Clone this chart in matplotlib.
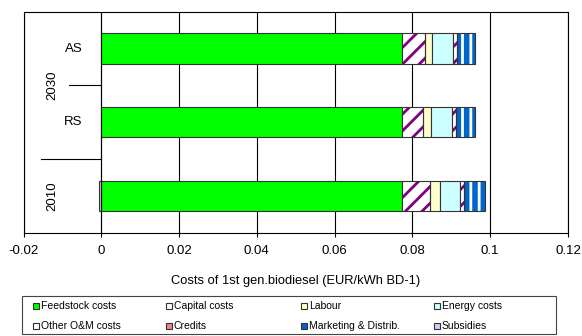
import numpy as np
import matplotlib
matplotlib.use("Agg")
import matplotlib.pyplot as plt
import matplotlib.ticker as ticker
from matplotlib.patches import Rectangle

plt.rcParams['font.family'] = ['Liberation Sans', 'DejaVu Sans']
plt.rcParams['hatch.linewidth'] = 2.0

# cost components per scenario (EUR/kWh), rows bottom -> top: 2010, 2030 RS, 2030 AS
scenarios = ['2010', 'RS', 'AS']
feedstock = [0.0772, 0.0772, 0.0772]
capital = [0.0073, 0.0056, 0.0060]
labour = [0.0026, 0.0021, 0.0019]
energy = [0.0051, 0.0053, 0.0054]
other_om = [0.0011, 0.0010, 0.0009]
credits = [0.0, 0.0, 0.0]
marketing = [0.0054, 0.0049, 0.0046]
subsidies = [-0.0006, 0.0, 0.0]

xticks = [-0.02, 0, 0.02, 0.04, 0.06, 0.08, 0.1, 0.12]

EDGE = '#333333'
PURPLE = '#800080'
BLUE = '#0066CC'

W, H = 582, 336
fig = plt.figure(figsize=(W / 100, H / 100), dpi=100)
ax = fig.add_axes([23.5 / W, 103 / H, 544.5 / W, 221.3 / H])

y = np.arange(len(scenarios))
h = 0.41

segments = [
    ('Feedstock costs', feedstock, dict(color='#00FF00')),
    ('Capital costs', capital, dict(color='white', hatch='//', hcolor=PURPLE)),
    ('Labour', labour, dict(color='#FFFFCC')),
    ('Energy costs', energy, dict(color='#CCFFFF')),
    ('Other O&M costs', other_om, dict(color='white', hatch='//', hcolor=PURPLE)),
    ('Credits', credits, dict(color='#FF8080')),
    ('Marketing & Distrib.', marketing, dict(color=BLUE, hatch='||', hcolor='white')),
    ('Subsidies', subsidies, dict(color='#CCCCFF')),
]

pos = np.zeros(len(scenarios))
neg = np.zeros(len(scenarios))
for name, vals, st in segments:
    vals = np.array(vals)
    left = np.where(vals >= 0, pos, neg)
    keep = vals != 0
    if keep.any():
        if 'hatch' in st:
            ax.barh(y[keep], vals[keep], h, left=left[keep], color=st['color'],
                    hatch=st['hatch'], edgecolor=st['hcolor'], linewidth=0, zorder=3)
            ax.barh(y[keep], vals[keep], h, left=left[keep], fill=False,
                    edgecolor=EDGE, linewidth=0.8, zorder=4)
        else:
            ax.barh(y[keep], vals[keep], h, left=left[keep], color=st['color'],
                    edgecolor=EDGE, linewidth=0.8, zorder=3)
    pos += np.where(vals > 0, vals, 0)
    neg += np.where(vals < 0, vals, 0)

ax.set_xlim(-0.02, 0.12)
ax.set_ylim(-0.5, 2.5)
ax.set_xticks(xticks)
ax.xaxis.set_major_formatter(ticker.FuncFormatter(lambda v, p: '%g' % round(v, 4)))
ax.tick_params(axis='x', direction='out', length=3, width=0.8, pad=6, labelsize=9.5)
ax.set_yticks([])
ax.grid(axis='x', color='black', linewidth=0.8, zorder=0)
ax.set_axisbelow(True)
for s in ax.spines.values():
    s.set_color('black')
    s.set_linewidth(0.8)

# category axis drawn at x = 0 with two-level labels
ax.axvline(0, color='black', linewidth=0.8, zorder=5)
ax.plot([-0.0084, 0], [1.5, 1.5], color='black', linewidth=0.8, zorder=5)
ax.plot([-0.0155, 0], [0.5, 0.5], color='black', linewidth=0.8, zorder=5)
for yi, lab in zip(y, scenarios):
    if lab in ('RS', 'AS'):
        ax.text(-0.0048, yi, lab, ha='right', va='center', fontsize=9.5)
ax.text(-0.0125, 1.5, '2030', rotation=90, ha='center', va='center', fontsize=9.5)
ax.text(-0.0125, 0, '2010', rotation=90, ha='center', va='center', fontsize=9.5)

ax.set_xlabel('Costs of 1st gen.biodiesel (EUR/kWh BD-1)', fontsize=9.3, va='center')
ax.xaxis.set_label_coords(0.5, -0.217)

# legend box, filled row by row in four fixed-width columns
leg_colors = ['#00FF00', 'white', '#FFFFCC', '#CCFFFF', 'white', '#FF8080', BLUE, '#CCCCFF']
col_x = [33, 166, 301, 434]
row_y = [306, 326]
fig.patches.append(Rectangle((22 / W, 1 - 334 / H), 534 / W, 38 / H, transform=fig.transFigure,
                             facecolor='white', edgecolor='#444444', linewidth=0.8))
for i, (name, _, _) in enumerate(segments):
    cx, cy = col_x[i % 4], row_y[i // 4]
    fig.patches.append(Rectangle((cx / W, 1 - (cy + 3) / H), 6 / W, 6 / H,
                                 transform=fig.transFigure, facecolor=leg_colors[i],
                                 edgecolor=EDGE, linewidth=0.8))
    fig.text((cx + 8) / W, 1 - cy / H, name, ha='left', va='center', fontsize=7.5)

fig.savefig('out.png', dpi=100)
